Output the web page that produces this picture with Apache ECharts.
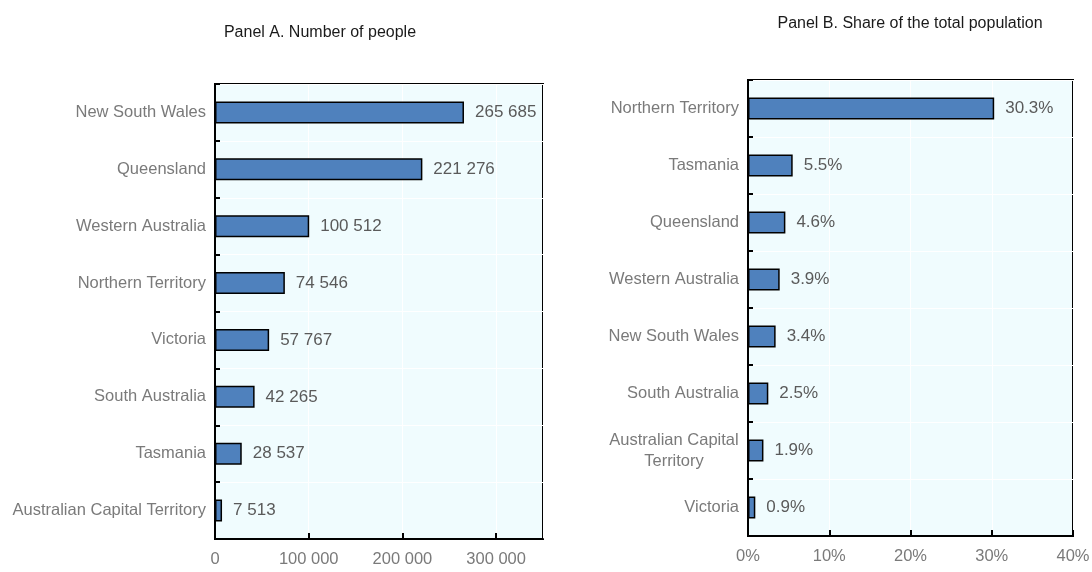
<!DOCTYPE html>
<html>
<head>
<meta charset="utf-8">
<script src="https://cdn.jsdelivr.net/npm/echarts@6/dist/echarts.min.js"></script>
<style>
  html, body { margin: 0; padding: 0; background: #fff; }
  #chart { width: 1092px; height: 572px; }
</style>
</head>
<body>
<div id="chart"></div>
<script>
// Panel A - number of people
const statesA = ['New South Wales', 'Queensland', 'Western Australia', 'Northern Territory', 'Victoria', 'South Australia', 'Tasmania', 'Australian Capital Territory']
const peopleA = [265685, 221276, 100512, 74546, 57767, 42265, 28537, 7513]
// Panel B - share of total population (%)
const statesB = ['Northern Territory', 'Tasmania', 'Queensland', 'Western Australia', 'New South Wales', 'South Australia', 'Australian Capital Territory', 'Victoria']
const shareB = [30.3, 5.5, 4.6, 3.9, 3.4, 2.5, 1.9, 0.9]

const FONT = "'Liberation Sans', Arial, sans-serif"
const BAR = '#4F81BD'
const BG = '#F0FCFE'
const FS = 16.5

const fmtThousands = v => String(v).replace(/\B(?=(\d{3})+(?!\d))/g, ' ')

const catAxis = (gridIndex, data, formatter) => ({
    type: 'category',
    gridIndex,
    data,
    inverse: true,
    axisLine: { show: true, lineStyle: { color: '#000', width: 2 } },
    axisTick: { show: true, inside: true, length: 5, lineStyle: { color: '#000', width: 2 } },
    axisLabel: {
        color: '#7a7a7a', fontFamily: FONT, fontSize: FS, margin: 9,
        formatter,
        rich: { c: { color: '#7a7a7a', fontFamily: FONT, fontSize: FS, width: 130, align: 'center', lineHeight: 21 } }
    },
    splitLine: { show: true, lineStyle: { color: '#fff', width: 1 } }
})

const valAxis = (gridIndex, max, interval, formatter) => ({
    type: 'value',
    gridIndex,
    min: 0,
    max,
    interval,
    axisLine: { show: true, lineStyle: { color: '#000', width: 2 } },
    axisTick: { show: true, inside: true, length: 6, lineStyle: { color: '#000', width: 2 } },
    axisLabel: { color: '#7a7a7a', fontFamily: FONT, fontSize: FS, margin: 12, showMaxLabel: max % interval === 0, formatter },
    splitLine: { show: true, lineStyle: { color: '#fff', width: 1 } }
})

const barSeries = (idx, data, fmt) => ({
    type: 'bar',
    xAxisIndex: idx,
    yAxisIndex: idx,
    data,
    barWidth: 22,
    itemStyle: { color: BAR, borderColor: '#000', borderWidth: 1.5 },
    label: {
        show: true, position: 'right', distance: 11,
        color: '#5a5a5a', fontFamily: FONT, fontSize: 17,
        formatter: p => fmt(p.value)
    },
    silent: true
})

const chart = echarts.init(document.getElementById('chart'), null, { renderer: 'canvas' })

const option = {
    animation: false,
    backgroundColor: '#fff',
    title: [
        { text: 'Panel A. Number of people', left: 315, top: 20, textAlign: 'center',
          textStyle: { fontFamily: FONT, fontSize: 16, fontWeight: 'normal', color: '#1a1a1a' } },
        { text: 'Panel B. Share of the total population', left: 905, top: 11, textAlign: 'center',
          textStyle: { fontFamily: FONT, fontSize: 16, fontWeight: 'normal', color: '#1a1a1a' } }
    ],
    grid: [
        { left: 215, right: 549, top: 84, bottom: 33, outerBoundsMode: 'none', containLabel: false,
          show: true, backgroundColor: BG, borderColor: '#000', borderWidth: 2 },
        { left: 748, right: 19, top: 80, bottom: 36, outerBoundsMode: 'none', containLabel: false,
          show: true, backgroundColor: BG, borderColor: '#000', borderWidth: 2 }
    ],
    xAxis: [
        valAxis(0, 350000, 100000, v => fmtThousands(v)),
        valAxis(1, 40, 10, v => v + '%')
    ],
    yAxis: [
        catAxis(0, statesA),
        catAxis(1, statesB, v => v === 'Australian Capital Territory' ? '{c|Australian Capital}\n{c|Territory}' : v)
    ],
    series: [
        barSeries(0, peopleA, fmtThousands),
        barSeries(1, shareB, v => v.toFixed(1) + '%')
    ]
}

chart.setOption(option)
</script>
</body>
</html>
